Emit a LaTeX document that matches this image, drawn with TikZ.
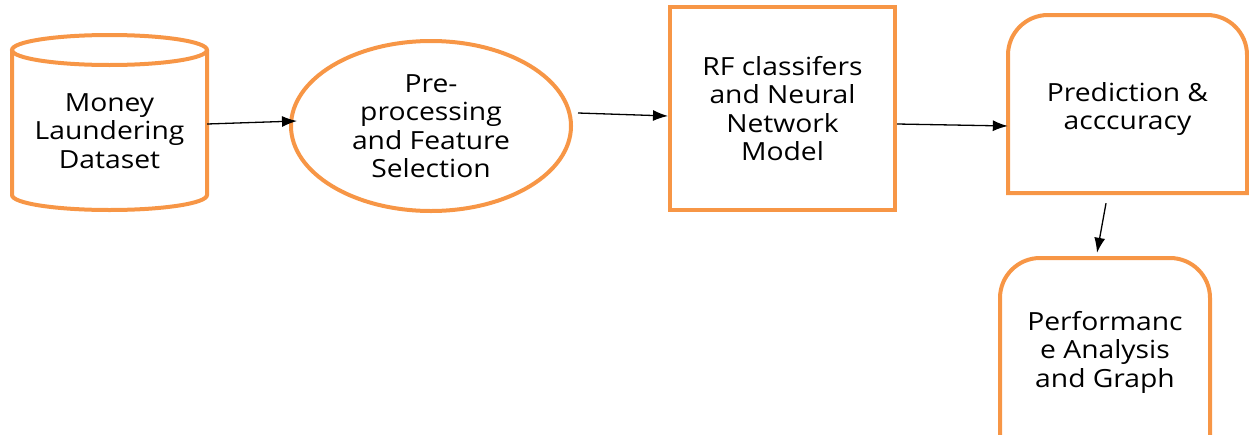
\documentclass[tikz,border=0pt]{standalone}
\usepackage{fontspec}
\setmainfont{Open Sans}[FakeStretch=1.13,Ligatures=NoCommon]
\usetikzlibrary{arrows.meta,shapes.geometric}
\definecolor{orng}{HTML}{F79646}
\begin{document}
\begin{tikzpicture}[x=1pt,y=-1pt,
  box/.style={draw=orng,line width=4pt},
  txt/.style={align=center,inner sep=0pt,font=\fontsize{25}{28.5}\selectfont},
  conn/.style={line width=1.3pt,-{Latex[length=15pt,width=11pt]}}]
\useasboundingbox (0,0) rectangle (1249,434);
% cylinder
\draw[box] (12,50) -- (12,195) arc[start angle=180,end angle=360,x radius=97.5pt,y radius=15pt] -- (207,50);
\draw[box] (109.5,50) ellipse[x radius=97.5pt,y radius=15pt];
\node[txt,minimum width=195pt,minimum height=160pt] (cyl) at (109.5,131) {Money\\Laundering\\Dataset};
% ellipse
\node[box,ellipse,txt,minimum width=280pt,minimum height=170pt] (pre) at (431,126) {Pre-\\processing\\and Feature\\Selection};
% rectangle
\node[box,txt,minimum width=225pt,minimum height=203pt] (rf) at (782.5,108.5) {RF classifers\\and Neural\\Network\\Model};
% prediction
\draw[box] (1008,193) -- (1008,55) arc[start angle=180,end angle=90,radius=40pt] -- (1207,15) arc[start angle=90,end angle=0,radius=40pt] -- (1247,193) -- cycle;
\node[txt,minimum width=239pt,minimum height=178pt] (pred) at (1127.5,109) {Prediction \&\\acccuracy};
% performance
\draw[box] (1000,440) -- (1000,298) arc[start angle=180,end angle=90,radius=40pt] -- (1170,258) arc[start angle=90,end angle=0,radius=40pt] -- (1210,440);
\node[txt,minimum width=210pt,minimum height=182pt] (perf) at (1105,352) {Performanc\\e Analysis\\and Graph};
% connectors
\draw[conn] ([yshift=7pt]cyl.east) -- ([yshift=5pt,xshift=8pt]pre.west);
\draw[conn] ([xshift=5pt,yshift=13pt]pre.east) -- ([yshift=-7.5pt]rf.west);
\draw[conn] ([yshift=-15.5pt]rf.east) -- ([yshift=-17pt]pred.west);
\draw[conn] ([xshift=-21.5pt,yshift=-5pt]pred.south) -- ([xshift=-8pt,yshift=8pt]perf.north);
\end{tikzpicture}
\end{document}
